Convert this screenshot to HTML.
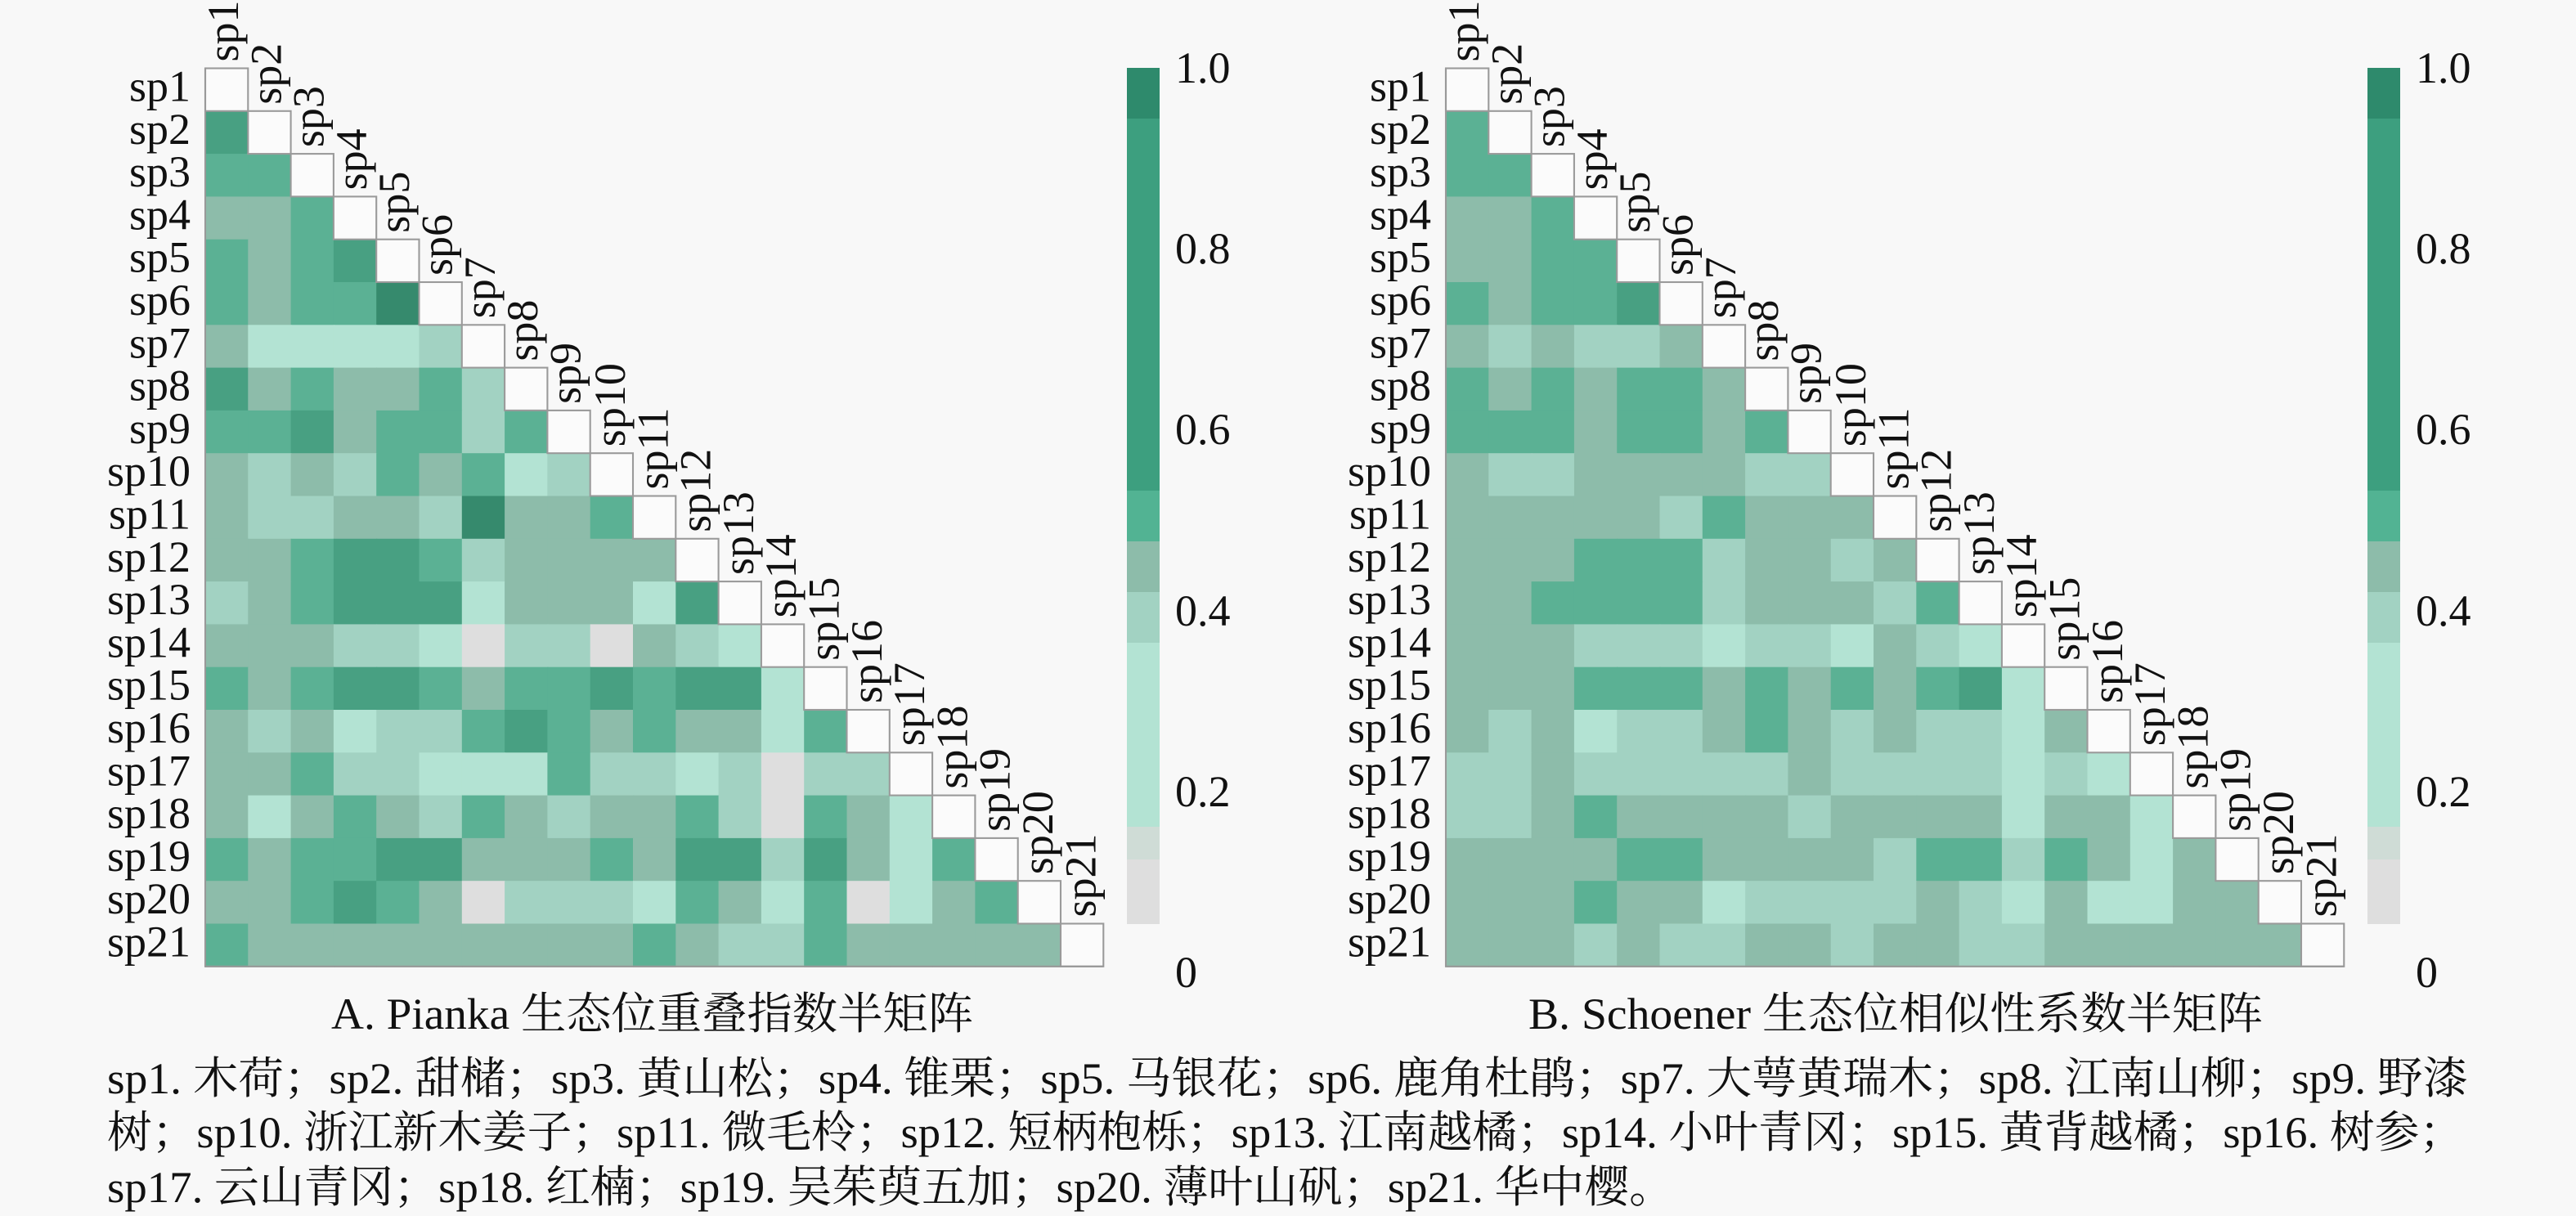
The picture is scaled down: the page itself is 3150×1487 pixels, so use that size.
<!DOCTYPE html>
<html><head><meta charset="utf-8"><style>
html,body{margin:0;padding:0;background:#f8f8f8}
svg{display:block}
rect.k{width:1.02px;height:1.02px}
.g{fill:#dedede}.a{fill:#b3e3d3}.b{fill:#a2d2c2}.c{fill:#8dbcaa}.d{fill:#5bb194}.e{fill:#48a082}.f{fill:#368a6d}
rect.w{width:1px;height:1px;fill:#fbfbfb;stroke:#9a9a9a;stroke-width:0.04}
text{font-family:"Liberation Serif","Noto Serif CJK SC",serif;fill:#111}
.l{font-size:54px}
.cap{font-size:54px;font-family:"Liberation Serif","Noto Serif CJK SC",serif}
</style></head><body>
<svg width="3150" height="1487" viewBox="0 0 3150 1487" xmlns="http://www.w3.org/2000/svg">
<rect x="0" y="0" width="3150" height="1487" fill="#f8f8f8"/>

<!-- Panel A cells -->
<g transform="translate(251,83.5) scale(52.3)">
<rect class="k e" x="0" y="1"/>
<rect class="k d" x="0" y="2"/><rect class="k d" x="1" y="2"/>
<rect class="k c" x="0" y="3"/><rect class="k c" x="1" y="3"/><rect class="k d" x="2" y="3"/>
<rect class="k d" x="0" y="4"/><rect class="k c" x="1" y="4"/><rect class="k d" x="2" y="4"/><rect class="k e" x="3" y="4"/>
<rect class="k d" x="0" y="5"/><rect class="k c" x="1" y="5"/><rect class="k d" x="2" y="5"/><rect class="k d" x="3" y="5"/><rect class="k f" x="4" y="5"/>
<rect class="k c" x="0" y="6"/><rect class="k a" x="1" y="6"/><rect class="k a" x="2" y="6"/><rect class="k a" x="3" y="6"/><rect class="k a" x="4" y="6"/><rect class="k b" x="5" y="6"/>
<rect class="k e" x="0" y="7"/><rect class="k c" x="1" y="7"/><rect class="k d" x="2" y="7"/><rect class="k c" x="3" y="7"/><rect class="k c" x="4" y="7"/><rect class="k d" x="5" y="7"/><rect class="k b" x="6" y="7"/>
<rect class="k d" x="0" y="8"/><rect class="k d" x="1" y="8"/><rect class="k e" x="2" y="8"/><rect class="k c" x="3" y="8"/><rect class="k d" x="4" y="8"/><rect class="k d" x="5" y="8"/><rect class="k b" x="6" y="8"/><rect class="k d" x="7" y="8"/>
<rect class="k c" x="0" y="9"/><rect class="k b" x="1" y="9"/><rect class="k c" x="2" y="9"/><rect class="k b" x="3" y="9"/><rect class="k d" x="4" y="9"/><rect class="k c" x="5" y="9"/><rect class="k d" x="6" y="9"/><rect class="k a" x="7" y="9"/><rect class="k b" x="8" y="9"/>
<rect class="k c" x="0" y="10"/><rect class="k b" x="1" y="10"/><rect class="k b" x="2" y="10"/><rect class="k c" x="3" y="10"/><rect class="k c" x="4" y="10"/><rect class="k b" x="5" y="10"/><rect class="k f" x="6" y="10"/><rect class="k c" x="7" y="10"/><rect class="k c" x="8" y="10"/><rect class="k d" x="9" y="10"/>
<rect class="k c" x="0" y="11"/><rect class="k c" x="1" y="11"/><rect class="k d" x="2" y="11"/><rect class="k e" x="3" y="11"/><rect class="k e" x="4" y="11"/><rect class="k d" x="5" y="11"/><rect class="k b" x="6" y="11"/><rect class="k c" x="7" y="11"/><rect class="k c" x="8" y="11"/><rect class="k c" x="9" y="11"/><rect class="k c" x="10" y="11"/>
<rect class="k b" x="0" y="12"/><rect class="k c" x="1" y="12"/><rect class="k d" x="2" y="12"/><rect class="k e" x="3" y="12"/><rect class="k e" x="4" y="12"/><rect class="k e" x="5" y="12"/><rect class="k a" x="6" y="12"/><rect class="k c" x="7" y="12"/><rect class="k c" x="8" y="12"/><rect class="k c" x="9" y="12"/><rect class="k a" x="10" y="12"/><rect class="k e" x="11" y="12"/>
<rect class="k c" x="0" y="13"/><rect class="k c" x="1" y="13"/><rect class="k c" x="2" y="13"/><rect class="k b" x="3" y="13"/><rect class="k b" x="4" y="13"/><rect class="k a" x="5" y="13"/><rect class="k g" x="6" y="13"/><rect class="k b" x="7" y="13"/><rect class="k b" x="8" y="13"/><rect class="k g" x="9" y="13"/><rect class="k c" x="10" y="13"/><rect class="k b" x="11" y="13"/><rect class="k a" x="12" y="13"/>
<rect class="k d" x="0" y="14"/><rect class="k c" x="1" y="14"/><rect class="k d" x="2" y="14"/><rect class="k e" x="3" y="14"/><rect class="k e" x="4" y="14"/><rect class="k d" x="5" y="14"/><rect class="k c" x="6" y="14"/><rect class="k d" x="7" y="14"/><rect class="k d" x="8" y="14"/><rect class="k e" x="9" y="14"/><rect class="k d" x="10" y="14"/><rect class="k e" x="11" y="14"/><rect class="k e" x="12" y="14"/><rect class="k a" x="13" y="14"/>
<rect class="k c" x="0" y="15"/><rect class="k b" x="1" y="15"/><rect class="k c" x="2" y="15"/><rect class="k a" x="3" y="15"/><rect class="k b" x="4" y="15"/><rect class="k b" x="5" y="15"/><rect class="k d" x="6" y="15"/><rect class="k e" x="7" y="15"/><rect class="k d" x="8" y="15"/><rect class="k c" x="9" y="15"/><rect class="k d" x="10" y="15"/><rect class="k c" x="11" y="15"/><rect class="k c" x="12" y="15"/><rect class="k a" x="13" y="15"/><rect class="k d" x="14" y="15"/>
<rect class="k c" x="0" y="16"/><rect class="k c" x="1" y="16"/><rect class="k d" x="2" y="16"/><rect class="k b" x="3" y="16"/><rect class="k b" x="4" y="16"/><rect class="k a" x="5" y="16"/><rect class="k a" x="6" y="16"/><rect class="k a" x="7" y="16"/><rect class="k d" x="8" y="16"/><rect class="k b" x="9" y="16"/><rect class="k b" x="10" y="16"/><rect class="k a" x="11" y="16"/><rect class="k b" x="12" y="16"/><rect class="k g" x="13" y="16"/><rect class="k b" x="14" y="16"/><rect class="k b" x="15" y="16"/>
<rect class="k c" x="0" y="17"/><rect class="k a" x="1" y="17"/><rect class="k c" x="2" y="17"/><rect class="k d" x="3" y="17"/><rect class="k c" x="4" y="17"/><rect class="k b" x="5" y="17"/><rect class="k d" x="6" y="17"/><rect class="k c" x="7" y="17"/><rect class="k b" x="8" y="17"/><rect class="k c" x="9" y="17"/><rect class="k c" x="10" y="17"/><rect class="k d" x="11" y="17"/><rect class="k b" x="12" y="17"/><rect class="k g" x="13" y="17"/><rect class="k d" x="14" y="17"/><rect class="k c" x="15" y="17"/><rect class="k a" x="16" y="17"/>
<rect class="k d" x="0" y="18"/><rect class="k c" x="1" y="18"/><rect class="k d" x="2" y="18"/><rect class="k d" x="3" y="18"/><rect class="k e" x="4" y="18"/><rect class="k e" x="5" y="18"/><rect class="k c" x="6" y="18"/><rect class="k c" x="7" y="18"/><rect class="k c" x="8" y="18"/><rect class="k d" x="9" y="18"/><rect class="k c" x="10" y="18"/><rect class="k e" x="11" y="18"/><rect class="k e" x="12" y="18"/><rect class="k b" x="13" y="18"/><rect class="k e" x="14" y="18"/><rect class="k c" x="15" y="18"/><rect class="k a" x="16" y="18"/><rect class="k d" x="17" y="18"/>
<rect class="k c" x="0" y="19"/><rect class="k c" x="1" y="19"/><rect class="k d" x="2" y="19"/><rect class="k e" x="3" y="19"/><rect class="k d" x="4" y="19"/><rect class="k c" x="5" y="19"/><rect class="k g" x="6" y="19"/><rect class="k b" x="7" y="19"/><rect class="k b" x="8" y="19"/><rect class="k b" x="9" y="19"/><rect class="k a" x="10" y="19"/><rect class="k d" x="11" y="19"/><rect class="k c" x="12" y="19"/><rect class="k a" x="13" y="19"/><rect class="k d" x="14" y="19"/><rect class="k g" x="15" y="19"/><rect class="k a" x="16" y="19"/><rect class="k c" x="17" y="19"/><rect class="k d" x="18" y="19"/>
<rect class="k d" x="0" y="20"/><rect class="k c" x="1" y="20"/><rect class="k c" x="2" y="20"/><rect class="k c" x="3" y="20"/><rect class="k c" x="4" y="20"/><rect class="k c" x="5" y="20"/><rect class="k c" x="6" y="20"/><rect class="k c" x="7" y="20"/><rect class="k c" x="8" y="20"/><rect class="k c" x="9" y="20"/><rect class="k d" x="10" y="20"/><rect class="k c" x="11" y="20"/><rect class="k b" x="12" y="20"/><rect class="k b" x="13" y="20"/><rect class="k d" x="14" y="20"/><rect class="k c" x="15" y="20"/><rect class="k c" x="16" y="20"/><rect class="k c" x="17" y="20"/><rect class="k c" x="18" y="20"/><rect class="k c" x="19" y="20"/>
<rect class="w" x="0" y="0"/><rect class="w" x="1" y="1"/><rect class="w" x="2" y="2"/><rect class="w" x="3" y="3"/><rect class="w" x="4" y="4"/><rect class="w" x="5" y="5"/><rect class="w" x="6" y="6"/><rect class="w" x="7" y="7"/><rect class="w" x="8" y="8"/><rect class="w" x="9" y="9"/><rect class="w" x="10" y="10"/><rect class="w" x="11" y="11"/><rect class="w" x="12" y="12"/><rect class="w" x="13" y="13"/><rect class="w" x="14" y="14"/><rect class="w" x="15" y="15"/><rect class="w" x="16" y="16"/><rect class="w" x="17" y="17"/><rect class="w" x="18" y="18"/><rect class="w" x="19" y="19"/><rect class="w" x="20" y="20"/>
<path d="M0 0V21H21" fill="none" stroke="#999" stroke-width="0.04"/>
</g>

<!-- Panel B cells -->
<g transform="translate(1768,83.5) scale(52.3)">
<rect class="k d" x="0" y="1"/>
<rect class="k d" x="0" y="2"/><rect class="k d" x="1" y="2"/>
<rect class="k c" x="0" y="3"/><rect class="k c" x="1" y="3"/><rect class="k d" x="2" y="3"/>
<rect class="k c" x="0" y="4"/><rect class="k c" x="1" y="4"/><rect class="k d" x="2" y="4"/><rect class="k d" x="3" y="4"/>
<rect class="k d" x="0" y="5"/><rect class="k c" x="1" y="5"/><rect class="k d" x="2" y="5"/><rect class="k d" x="3" y="5"/><rect class="k e" x="4" y="5"/>
<rect class="k c" x="0" y="6"/><rect class="k b" x="1" y="6"/><rect class="k c" x="2" y="6"/><rect class="k b" x="3" y="6"/><rect class="k b" x="4" y="6"/><rect class="k c" x="5" y="6"/>
<rect class="k d" x="0" y="7"/><rect class="k c" x="1" y="7"/><rect class="k d" x="2" y="7"/><rect class="k c" x="3" y="7"/><rect class="k d" x="4" y="7"/><rect class="k d" x="5" y="7"/><rect class="k c" x="6" y="7"/>
<rect class="k d" x="0" y="8"/><rect class="k d" x="1" y="8"/><rect class="k d" x="2" y="8"/><rect class="k c" x="3" y="8"/><rect class="k d" x="4" y="8"/><rect class="k d" x="5" y="8"/><rect class="k c" x="6" y="8"/><rect class="k d" x="7" y="8"/>
<rect class="k c" x="0" y="9"/><rect class="k b" x="1" y="9"/><rect class="k b" x="2" y="9"/><rect class="k c" x="3" y="9"/><rect class="k c" x="4" y="9"/><rect class="k c" x="5" y="9"/><rect class="k c" x="6" y="9"/><rect class="k b" x="7" y="9"/><rect class="k b" x="8" y="9"/>
<rect class="k c" x="0" y="10"/><rect class="k c" x="1" y="10"/><rect class="k c" x="2" y="10"/><rect class="k c" x="3" y="10"/><rect class="k c" x="4" y="10"/><rect class="k b" x="5" y="10"/><rect class="k d" x="6" y="10"/><rect class="k c" x="7" y="10"/><rect class="k c" x="8" y="10"/><rect class="k c" x="9" y="10"/>
<rect class="k c" x="0" y="11"/><rect class="k c" x="1" y="11"/><rect class="k c" x="2" y="11"/><rect class="k d" x="3" y="11"/><rect class="k d" x="4" y="11"/><rect class="k d" x="5" y="11"/><rect class="k b" x="6" y="11"/><rect class="k c" x="7" y="11"/><rect class="k c" x="8" y="11"/><rect class="k b" x="9" y="11"/><rect class="k c" x="10" y="11"/>
<rect class="k c" x="0" y="12"/><rect class="k c" x="1" y="12"/><rect class="k d" x="2" y="12"/><rect class="k d" x="3" y="12"/><rect class="k d" x="4" y="12"/><rect class="k d" x="5" y="12"/><rect class="k b" x="6" y="12"/><rect class="k c" x="7" y="12"/><rect class="k c" x="8" y="12"/><rect class="k c" x="9" y="12"/><rect class="k b" x="10" y="12"/><rect class="k d" x="11" y="12"/>
<rect class="k c" x="0" y="13"/><rect class="k c" x="1" y="13"/><rect class="k c" x="2" y="13"/><rect class="k b" x="3" y="13"/><rect class="k b" x="4" y="13"/><rect class="k b" x="5" y="13"/><rect class="k a" x="6" y="13"/><rect class="k b" x="7" y="13"/><rect class="k b" x="8" y="13"/><rect class="k a" x="9" y="13"/><rect class="k c" x="10" y="13"/><rect class="k b" x="11" y="13"/><rect class="k a" x="12" y="13"/>
<rect class="k c" x="0" y="14"/><rect class="k c" x="1" y="14"/><rect class="k c" x="2" y="14"/><rect class="k d" x="3" y="14"/><rect class="k d" x="4" y="14"/><rect class="k d" x="5" y="14"/><rect class="k c" x="6" y="14"/><rect class="k d" x="7" y="14"/><rect class="k c" x="8" y="14"/><rect class="k d" x="9" y="14"/><rect class="k c" x="10" y="14"/><rect class="k d" x="11" y="14"/><rect class="k e" x="12" y="14"/><rect class="k a" x="13" y="14"/>
<rect class="k c" x="0" y="15"/><rect class="k b" x="1" y="15"/><rect class="k c" x="2" y="15"/><rect class="k a" x="3" y="15"/><rect class="k b" x="4" y="15"/><rect class="k b" x="5" y="15"/><rect class="k c" x="6" y="15"/><rect class="k d" x="7" y="15"/><rect class="k c" x="8" y="15"/><rect class="k b" x="9" y="15"/><rect class="k c" x="10" y="15"/><rect class="k b" x="11" y="15"/><rect class="k b" x="12" y="15"/><rect class="k a" x="13" y="15"/><rect class="k c" x="14" y="15"/>
<rect class="k b" x="0" y="16"/><rect class="k b" x="1" y="16"/><rect class="k c" x="2" y="16"/><rect class="k b" x="3" y="16"/><rect class="k b" x="4" y="16"/><rect class="k b" x="5" y="16"/><rect class="k b" x="6" y="16"/><rect class="k b" x="7" y="16"/><rect class="k c" x="8" y="16"/><rect class="k b" x="9" y="16"/><rect class="k b" x="10" y="16"/><rect class="k b" x="11" y="16"/><rect class="k b" x="12" y="16"/><rect class="k a" x="13" y="16"/><rect class="k b" x="14" y="16"/><rect class="k a" x="15" y="16"/>
<rect class="k b" x="0" y="17"/><rect class="k b" x="1" y="17"/><rect class="k c" x="2" y="17"/><rect class="k d" x="3" y="17"/><rect class="k c" x="4" y="17"/><rect class="k c" x="5" y="17"/><rect class="k c" x="6" y="17"/><rect class="k c" x="7" y="17"/><rect class="k b" x="8" y="17"/><rect class="k c" x="9" y="17"/><rect class="k c" x="10" y="17"/><rect class="k c" x="11" y="17"/><rect class="k c" x="12" y="17"/><rect class="k a" x="13" y="17"/><rect class="k c" x="14" y="17"/><rect class="k c" x="15" y="17"/><rect class="k a" x="16" y="17"/>
<rect class="k c" x="0" y="18"/><rect class="k c" x="1" y="18"/><rect class="k c" x="2" y="18"/><rect class="k c" x="3" y="18"/><rect class="k d" x="4" y="18"/><rect class="k d" x="5" y="18"/><rect class="k c" x="6" y="18"/><rect class="k c" x="7" y="18"/><rect class="k c" x="8" y="18"/><rect class="k c" x="9" y="18"/><rect class="k b" x="10" y="18"/><rect class="k d" x="11" y="18"/><rect class="k d" x="12" y="18"/><rect class="k b" x="13" y="18"/><rect class="k d" x="14" y="18"/><rect class="k c" x="15" y="18"/><rect class="k a" x="16" y="18"/><rect class="k c" x="17" y="18"/>
<rect class="k c" x="0" y="19"/><rect class="k c" x="1" y="19"/><rect class="k c" x="2" y="19"/><rect class="k d" x="3" y="19"/><rect class="k c" x="4" y="19"/><rect class="k c" x="5" y="19"/><rect class="k a" x="6" y="19"/><rect class="k b" x="7" y="19"/><rect class="k b" x="8" y="19"/><rect class="k b" x="9" y="19"/><rect class="k b" x="10" y="19"/><rect class="k c" x="11" y="19"/><rect class="k b" x="12" y="19"/><rect class="k a" x="13" y="19"/><rect class="k c" x="14" y="19"/><rect class="k a" x="15" y="19"/><rect class="k a" x="16" y="19"/><rect class="k c" x="17" y="19"/><rect class="k c" x="18" y="19"/>
<rect class="k c" x="0" y="20"/><rect class="k c" x="1" y="20"/><rect class="k c" x="2" y="20"/><rect class="k b" x="3" y="20"/><rect class="k c" x="4" y="20"/><rect class="k b" x="5" y="20"/><rect class="k b" x="6" y="20"/><rect class="k c" x="7" y="20"/><rect class="k c" x="8" y="20"/><rect class="k b" x="9" y="20"/><rect class="k c" x="10" y="20"/><rect class="k c" x="11" y="20"/><rect class="k b" x="12" y="20"/><rect class="k b" x="13" y="20"/><rect class="k c" x="14" y="20"/><rect class="k c" x="15" y="20"/><rect class="k c" x="16" y="20"/><rect class="k c" x="17" y="20"/><rect class="k c" x="18" y="20"/><rect class="k c" x="19" y="20"/>
<rect class="w" x="0" y="0"/><rect class="w" x="1" y="1"/><rect class="w" x="2" y="2"/><rect class="w" x="3" y="3"/><rect class="w" x="4" y="4"/><rect class="w" x="5" y="5"/><rect class="w" x="6" y="6"/><rect class="w" x="7" y="7"/><rect class="w" x="8" y="8"/><rect class="w" x="9" y="9"/><rect class="w" x="10" y="10"/><rect class="w" x="11" y="11"/><rect class="w" x="12" y="12"/><rect class="w" x="13" y="13"/><rect class="w" x="14" y="14"/><rect class="w" x="15" y="15"/><rect class="w" x="16" y="16"/><rect class="w" x="17" y="17"/><rect class="w" x="18" y="18"/><rect class="w" x="19" y="19"/><rect class="w" x="20" y="20"/>
<path d="M0 0V21H21" fill="none" stroke="#999" stroke-width="0.04"/>
</g>

<!-- Colorbars -->
<g id="cbA">
<rect x="1378" y="83" width="40" height="62" fill="#2e8a6c"/>
<rect x="1378" y="145" width="40" height="455" fill="#3d9f7f"/>
<rect x="1378" y="600" width="40" height="62" fill="#52b393"/>
<rect x="1378" y="662" width="40" height="62" fill="#8dbcaa"/>
<rect x="1378" y="724" width="40" height="62" fill="#a2d2c2"/>
<rect x="1378" y="786" width="40" height="225" fill="#b3e3d3"/>
<rect x="1378" y="1011" width="40" height="40" fill="#cfdcd6"/>
<rect x="1378" y="1051" width="40" height="79" fill="#dedede"/>
</g>
<g transform="translate(1517,0)">
<rect x="1378" y="83" width="40" height="62" fill="#2e8a6c"/>
<rect x="1378" y="145" width="40" height="455" fill="#3d9f7f"/>
<rect x="1378" y="600" width="40" height="62" fill="#52b393"/>
<rect x="1378" y="662" width="40" height="62" fill="#8dbcaa"/>
<rect x="1378" y="724" width="40" height="62" fill="#a2d2c2"/>
<rect x="1378" y="786" width="40" height="225" fill="#b3e3d3"/>
<rect x="1378" y="1011" width="40" height="40" fill="#cfdcd6"/>
<rect x="1378" y="1051" width="40" height="79" fill="#dedede"/>
</g>
<g class="l">
<text x="1437" y="101">1.0</text><text x="1437" y="322">0.8</text><text x="1437" y="543">0.6</text><text x="1437" y="765">0.4</text><text x="1437" y="986">0.2</text><text x="1437" y="1207">0</text>
<text x="2954" y="101">1.0</text><text x="2954" y="322">0.8</text><text x="2954" y="543">0.6</text><text x="2954" y="765">0.4</text><text x="2954" y="986">0.2</text><text x="2954" y="1207">0</text>
</g>

<!-- Row labels A -->
<g class="l" text-anchor="end">
<text x="233" y="123.5">sp1</text><text x="233" y="175.8">sp2</text><text x="233" y="228.1">sp3</text><text x="233" y="280.4">sp4</text><text x="233" y="332.7">sp5</text><text x="233" y="385">sp6</text><text x="233" y="437.3">sp7</text><text x="233" y="489.6">sp8</text><text x="233" y="541.9">sp9</text><text x="233" y="594.2">sp10</text><text x="233" y="646.5">sp11</text><text x="233" y="698.8">sp12</text><text x="233" y="751.1">sp13</text><text x="233" y="803.4">sp14</text><text x="233" y="855.7">sp15</text><text x="233" y="908">sp16</text><text x="233" y="960.3">sp17</text><text x="233" y="1012.6">sp18</text><text x="233" y="1064.9">sp19</text><text x="233" y="1117.2">sp20</text><text x="233" y="1169.5">sp21</text>
</g>
<g class="l" text-anchor="end">
<text x="1750" y="123.5">sp1</text><text x="1750" y="175.8">sp2</text><text x="1750" y="228.1">sp3</text><text x="1750" y="280.4">sp4</text><text x="1750" y="332.7">sp5</text><text x="1750" y="385">sp6</text><text x="1750" y="437.3">sp7</text><text x="1750" y="489.6">sp8</text><text x="1750" y="541.9">sp9</text><text x="1750" y="594.2">sp10</text><text x="1750" y="646.5">sp11</text><text x="1750" y="698.8">sp12</text><text x="1750" y="751.1">sp13</text><text x="1750" y="803.4">sp14</text><text x="1750" y="855.7">sp15</text><text x="1750" y="908">sp16</text><text x="1750" y="960.3">sp17</text><text x="1750" y="1012.6">sp18</text><text x="1750" y="1064.9">sp19</text><text x="1750" y="1117.2">sp20</text><text x="1750" y="1169.5">sp21</text>
</g>

<!-- Column labels A -->
<g class="l">
<text transform="translate(291,75.5) rotate(-90)">sp1</text>
<text transform="translate(343.3,127.8) rotate(-90)">sp2</text>
<text transform="translate(395.6,180.1) rotate(-90)">sp3</text>
<text transform="translate(447.9,232.4) rotate(-90)">sp4</text>
<text transform="translate(500.2,284.7) rotate(-90)">sp5</text>
<text transform="translate(552.5,337) rotate(-90)">sp6</text>
<text transform="translate(604.8,389.3) rotate(-90)">sp7</text>
<text transform="translate(657.1,441.6) rotate(-90)">sp8</text>
<text transform="translate(709.4,493.9) rotate(-90)">sp9</text>
<text transform="translate(764,546.2) rotate(-90)">sp10</text>
<text transform="translate(816.3,598.5) rotate(-90)">sp11</text>
<text transform="translate(868.6,650.8) rotate(-90)">sp12</text>
<text transform="translate(920.9,703.1) rotate(-90)">sp13</text>
<text transform="translate(973.2,755.4) rotate(-90)">sp14</text>
<text transform="translate(1025.5,807.7) rotate(-90)">sp15</text>
<text transform="translate(1077.8,860) rotate(-90)">sp16</text>
<text transform="translate(1130.1,912.3) rotate(-90)">sp17</text>
<text transform="translate(1182.4,964.6) rotate(-90)">sp18</text>
<text transform="translate(1234.7,1016.9) rotate(-90)">sp19</text>
<text transform="translate(1287,1069.2) rotate(-90)">sp20</text>
<text transform="translate(1339.3,1121.5) rotate(-90)">sp21</text>
</g>
<g class="l" transform="translate(1517,0)">
<text transform="translate(291,75.5) rotate(-90)">sp1</text>
<text transform="translate(343.3,127.8) rotate(-90)">sp2</text>
<text transform="translate(395.6,180.1) rotate(-90)">sp3</text>
<text transform="translate(447.9,232.4) rotate(-90)">sp4</text>
<text transform="translate(500.2,284.7) rotate(-90)">sp5</text>
<text transform="translate(552.5,337) rotate(-90)">sp6</text>
<text transform="translate(604.8,389.3) rotate(-90)">sp7</text>
<text transform="translate(657.1,441.6) rotate(-90)">sp8</text>
<text transform="translate(709.4,493.9) rotate(-90)">sp9</text>
<text transform="translate(764,546.2) rotate(-90)">sp10</text>
<text transform="translate(816.3,598.5) rotate(-90)">sp11</text>
<text transform="translate(868.6,650.8) rotate(-90)">sp12</text>
<text transform="translate(920.9,703.1) rotate(-90)">sp13</text>
<text transform="translate(973.2,755.4) rotate(-90)">sp14</text>
<text transform="translate(1025.5,807.7) rotate(-90)">sp15</text>
<text transform="translate(1077.8,860) rotate(-90)">sp16</text>
<text transform="translate(1130.1,912.3) rotate(-90)">sp17</text>
<text transform="translate(1182.4,964.6) rotate(-90)">sp18</text>
<text transform="translate(1234.7,1016.9) rotate(-90)">sp19</text>
<text transform="translate(1287,1069.2) rotate(-90)">sp20</text>
<text transform="translate(1339.3,1121.5) rotate(-90)">sp21</text>
</g>

<!-- Titles & caption -->
<g class="cap">
<text x="405" y="1258" textLength="785" lengthAdjust="spacingAndGlyphs">A. Pianka 生态位重叠指数半矩阵</text>
<text x="1869" y="1258" textLength="898" lengthAdjust="spacingAndGlyphs">B. Schoener 生态位相似性系数半矩阵</text>
<text x="131" y="1337" textLength="2887" lengthAdjust="spacingAndGlyphs">sp1. 木荷；sp2. 甜槠；sp3. 黄山松；sp4. 锥栗；sp5. 马银花；sp6. 鹿角杜鹃；sp7. 大萼黄瑞木；sp8. 江南山柳；sp9. 野漆</text>
<text x="131" y="1403" textLength="2882" lengthAdjust="spacingAndGlyphs">树；sp10. 浙江新木姜子；sp11. 微毛柃；sp12. 短柄枹栎；sp13. 江南越橘；sp14. 小叶青冈；sp15. 黄背越橘；sp16. 树参；</text>
<text x="131" y="1470" textLength="1916" lengthAdjust="spacingAndGlyphs">sp17. 云山青冈；sp18. 红楠；sp19. 吴茱萸五加；sp20. 薄叶山矾；sp21. 华中樱。</text>
</g>
</svg>
</body></html>
